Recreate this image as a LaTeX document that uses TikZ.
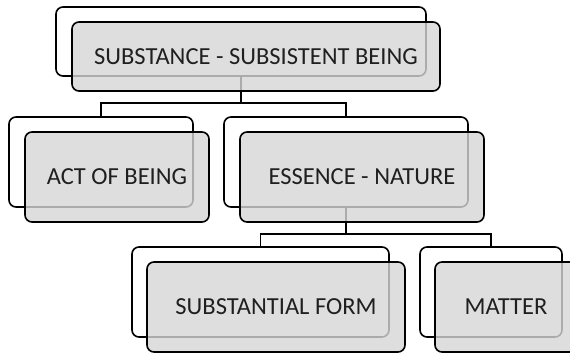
\documentclass[tikz,border=0pt]{standalone}
\usepackage{fontspec}
\setmainfont{Carlito}
\begin{document}
\begin{tikzpicture}[x=1pt,y=-1pt,
  backbox/.style={draw=black, line width=1.6pt, fill=white, rounded corners=7pt,
    minimum height=90pt, inner sep=0pt},
  frontbox/.style={draw=black, line width=1.6pt, fill=frontgray, fill opacity=0.8,
    text opacity=1, rounded corners=7pt, minimum height=90pt, inner sep=0pt,
    font=\fontsize{24.5}{27}\selectfont, text=black!88},
  link/.style={draw=black, line width=1.6pt}]
\definecolor{frontgray}{RGB}{214,214,214}
\useasboundingbox (0,0) rectangle (570,353);
\clip (0,0) rectangle (570,353);

% back frames
\node[backbox, minimum width=370pt, minimum height=69pt] (b1) at (241,41.5) {};
\node[backbox, minimum width=184pt] (b2) at (101,162) {};
\node[backbox, minimum width=244pt] (b3) at (346,162) {};
\node[backbox, minimum width=257pt] (b4) at (260.5,292) {};
\node[backbox, minimum width=142pt] (b5) at (491,292) {};

% junction levels
\coordinate (j1) at (0,103);
\coordinate (j2) at (0,234);

% connectors
\draw[link] (b1.south) -- (b1.south |- j1) -| (b2.north);
\draw[link] (b1.south |- j1) -| (b3.north);
\draw[link] (b3.south) -- (b3.south |- j2) -| (b4.north);
\draw[link] (b3.south |- j2) -| (b5.north);

% front labels
\node[frontbox, minimum width=368pt, minimum height=69pt] (f1) at (256,56.5) {SUBSTANCE - SUBSISTENT BEING};
\node[frontbox, minimum width=184pt] (f2) at (117,177) {ACT OF BEING};
\node[frontbox, minimum width=244pt] (f3) at (362,177) {ESSENCE - NATURE};
\node[frontbox, minimum width=258pt] (f4) at (276,307) {SUBSTANTIAL FORM};
\node[frontbox, minimum width=142pt] (f5) at (506,307) {MATTER};
\end{tikzpicture}
\end{document}
